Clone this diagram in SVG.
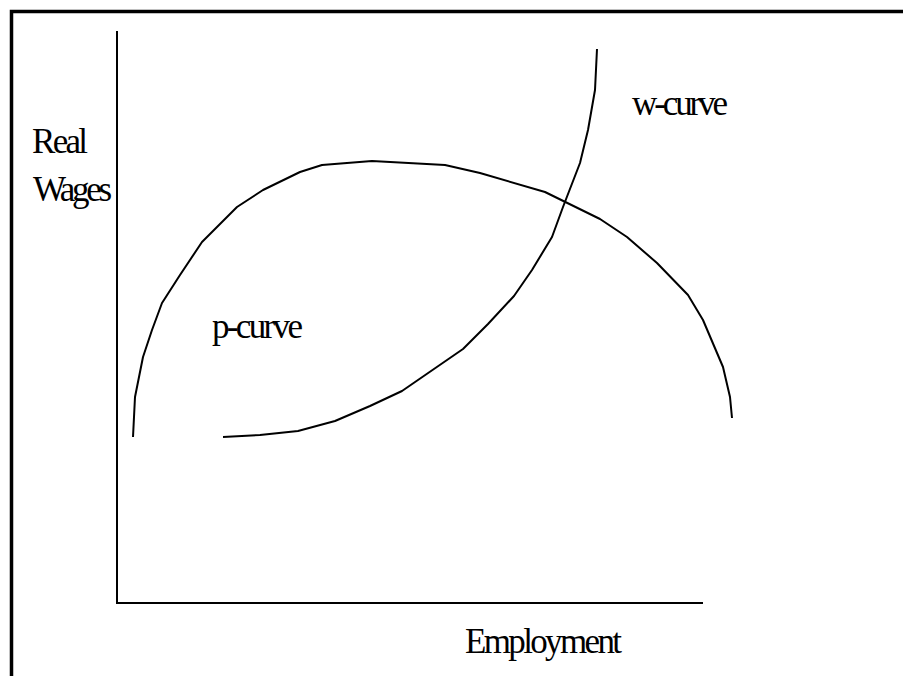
<svg xmlns="http://www.w3.org/2000/svg" width="903" height="676" viewBox="0 0 903 676">
<style>
.frame{fill:none;stroke:#000;stroke-width:3.5}
.axis{fill:none;stroke:#000;stroke-width:2}
.curve{fill:none;stroke:#000;stroke-width:2;stroke-linejoin:round}
.lbl{font-family:"Liberation Serif","Times New Roman",serif;font-size:35px;fill:#000}
</style>
<rect fill="#fff" x="0" y="0" width="903" height="676"/>
<g id="frame"><path class="frame" d="M11.5,676 V11.5 H903"/></g>
<g id="axes">
<path class="axis" d="M117,31 V603 H703"/>
</g>
<g id="connectors">
<polyline id="p-curve-line" class="curve" points="133,437 135,397 143,357 152,330 162,303 180,275 202,242 237,207 263,190 300,172 322,165 372,161 445,165 480,173 545,192 600,219 627,237 657,263 688,295 703,320 723,367 730,397 732,418"/>
<polyline id="w-curve-line" class="curve" points="223,437 260,435 298,431 335,421 370,406 402,391 463,349 488,324 514,296 532,270 552,237 563,207 580,163 588,130 595,90 597,49"/>
</g>
<g id="label-real-wages">
<text class="lbl" x="32" y="153" textLength="56" lengthAdjust="spacing">Real</text>
<text class="lbl" x="33" y="201" textLength="79" lengthAdjust="spacing">Wages</text>
</g>
<g id="label-w-curve"><text class="lbl" x="632" y="115" textLength="96" lengthAdjust="spacing">w-curve</text></g>
<g id="label-p-curve"><text class="lbl" x="212" y="338" textLength="91" lengthAdjust="spacing">p-curve</text></g>
<g id="label-employment"><text class="lbl" x="465" y="653" textLength="157" lengthAdjust="spacing">Employment</text></g>
</svg>
